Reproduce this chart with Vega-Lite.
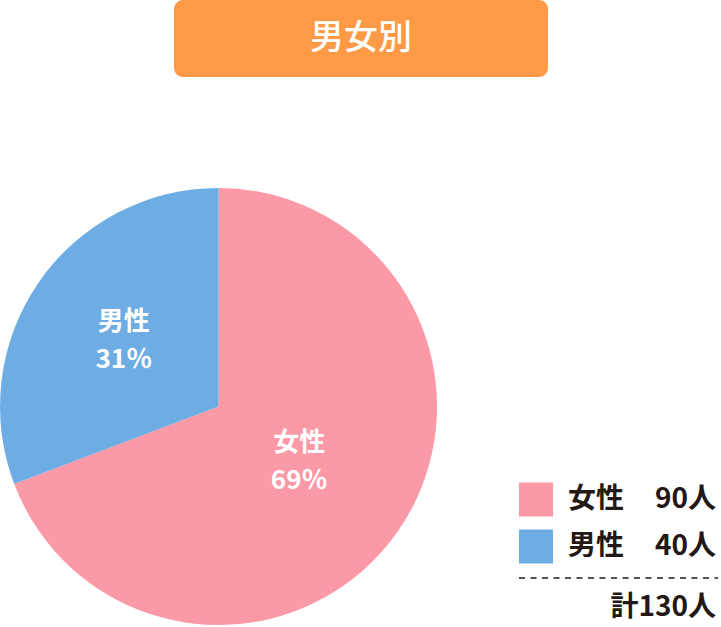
{
  "$schema": "https://vega.github.io/schema/vega-lite/v6.json",
  "padding": {"left": 0, "top": 0, "right": 0, "bottom": 2},
  "background": "white",
  "datasets": {
    "gender": [
      {"category": "女性", "count": 90},
      {"category": "男性", "count": 40}
    ]
  },
  "vconcat": [
    {
      "width": 374,
      "height": 77,
      "view": {"fill": "#FE9A45", "stroke": null, "cornerRadius": 9},
      "data": {"values": [{"title": "男女別"}]},
      "mark": {
        "type": "text",
        "font": "Noto Sans CJK JP",
        "fontSize": 34,
        "fontWeight": 500,
        "color": "white",
        "baseline": "middle",
        "align": "center"
      },
      "encoding": {"text": {"field": "title"}}
    },
    {
      "hconcat": [
        {
          "width": 437,
          "height": 437,
          "data": {"name": "gender"},
          "transform": [
            {"joinaggregate": [{"op": "sum", "field": "count", "as": "total"}]},
            {"calculate": "datum.category + '\\n' + round(datum.count / datum.total * 100) + '％'", "as": "label"}
          ],
          "encoding": {
            "theta": {"field": "count", "type": "quantitative", "stack": true}
          },
          "layer": [
            {
              "mark": {"type": "arc", "stroke": null},
              "encoding": {
                "color": {
                  "field": "category",
                  "type": "nominal",
                  "scale": {"domain": ["女性", "男性"], "range": ["#FC99A7", "#6EADE3"]},
                  "legend": null
                }
              }
            },
            {
              "mark": {
                "type": "text",
                "radius": {"expr": "datum.category === '男性' ? 115 : 98"},
                "font": "Noto Sans CJK JP",
                "fontSize": 26,
                "fontWeight": "bold",
                "color": "white",
                "lineBreak": "\n",
                "lineHeight": 38,
                "align": "center",
                "baseline": "middle",
                "dy": -19
              },
              "encoding": {
                "detail": {"field": "category", "type": "nominal"},
                "text": {"field": "label"}
              }
            }
          ]
        },
        {
          "width": 203,
          "height": 429,
          "data": {"name": "gender"},
          "encoding": {
            "y": {
              "field": "category",
              "type": "nominal",
              "axis": null,
              "scale": {
                "type": "band",
                "domain": ["女性", "男性", "計"],
                "range": [288, 429],
                "paddingInner": 0,
                "paddingOuter": 0
              }
            }
          },
          "layer": [
            {
              "mark": {"type": "square", "size": 1156, "opacity": 1, "filled": true},
              "encoding": {
                "x": {"value": 17},
                "color": {
                  "field": "category",
                  "type": "nominal",
                  "scale": {"domain": ["女性", "男性"], "range": ["#FC99A7", "#6EADE3"]},
                  "legend": null
                }
              }
            },
            {
              "mark": {
                "type": "text",
                "font": "Noto Sans CJK JP",
                "fontSize": 28,
                "fontWeight": "bold",
                "color": "#231815",
                "align": "left",
                "baseline": "middle"
              },
              "encoding": {
                "x": {"value": 49},
                "text": {"field": "category"}
              }
            },
            {
              "transform": [{"calculate": "datum.count + '人'", "as": "people"}],
              "mark": {
                "type": "text",
                "font": "Noto Sans CJK JP",
                "fontSize": 28,
                "fontWeight": "bold",
                "color": "#231815",
                "align": "right",
                "baseline": "middle"
              },
              "encoding": {
                "x": {"value": 197},
                "text": {"field": "people"}
              }
            },
            {
              "transform": [
                {"aggregate": [{"op": "sum", "field": "count", "as": "total"}]},
                {"calculate": "'計'", "as": "category"}
              ],
              "mark": {"type": "rule", "color": "#231815", "strokeWidth": 1.5, "strokeDash": [6, 5.5]},
              "encoding": {
                "y": {"field": "category", "type": "nominal", "bandPosition": 0},
                "yOffset": {"value": 8},
                "x": {"value": 0},
                "x2": {"value": 199}
              }
            },
            {
              "transform": [
                {"aggregate": [{"op": "sum", "field": "count", "as": "total"}]},
                {"calculate": "'計'", "as": "category"},
                {"calculate": "'計' + datum.total + '人'", "as": "label"}
              ],
              "mark": {
                "type": "text",
                "font": "Noto Sans CJK JP",
                "fontSize": 28,
                "fontWeight": "bold",
                "color": "#231815",
                "align": "right",
                "baseline": "middle",
                "dy": 14
              },
              "encoding": {
                "x": {"value": 197},
                "text": {"field": "label"}
              }
            }
          ]
        }
      ],
      "spacing": 81
    }
  ],
  "spacing": 111,
  "center": true,
  "config": {
    "view": {"stroke": null}
  }
}
